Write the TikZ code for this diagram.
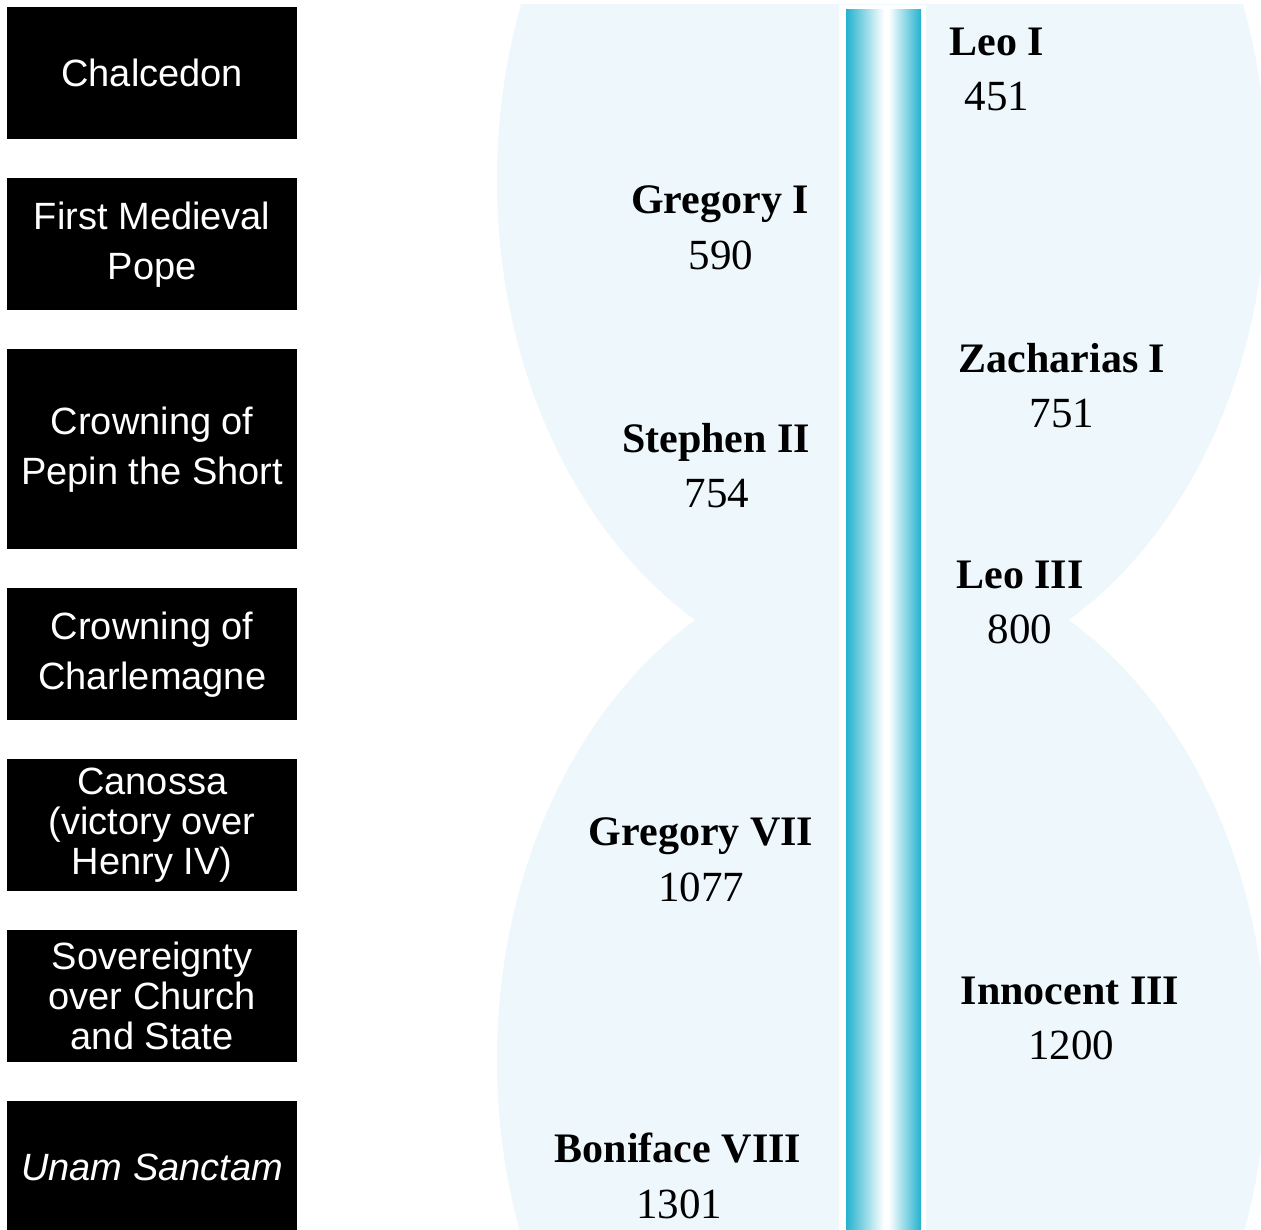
\documentclass[tikz,border=0pt]{standalone}
\usepackage{fontspec}
\setmainfont{Liberation Serif}
\setsansfont{Liberation Sans}
\definecolor{blobblue}{RGB}{238,247,251}
\definecolor{barcyan}{RGB}{36,178,206}
\tikzset{
  evbox/.style={fill=black, text=white, font=\sffamily\fontsize{38}{50}\selectfont,
    minimum width=290pt, align=center, inner sep=0pt, anchor=north west},
  evboxthree/.style={evbox, font=\sffamily\fontsize{38}{40}\selectfont},
  popename/.style={font=\bfseries\fontsize{42}{50}\selectfont, anchor=base, inner sep=0pt},
  popeyear/.style={font=\fontsize{43}{50}\selectfont, anchor=base, inner sep=0pt},
}
\begin{document}
\begin{tikzpicture}[x=1pt,y=-1pt]
\useasboundingbox (0,0) rectangle (1261,1230);
\fill[white] (0,0) rectangle (1261,1230);
% light blue hourglass background
\begin{scope}
  \clip (0,5) rectangle (1261,1230);
  \fill[blobblue] (882,180) ellipse [x radius=385pt, y radius=503pt];
  \fill[blobblue] (882,1060) ellipse [x radius=385pt, y radius=503pt];
\end{scope}
% central bar (cylinder-like highlight)
\fill[white] (839,5) rectangle (926,1230);
\shade[left color=barcyan, right color=white] (846,10) rectangle (884,1230);
\shade[left color=white, right color=barcyan] (888.5,10) rectangle (921,1230);
\fill[white] (883.5,10) rectangle (889,1230);
% event boxes
\node[evbox, minimum height=132pt] (b1) at (7,7) {Chalcedon};
\node[evbox, minimum height=132pt] (b2) at (7,178) {First Medieval\\Pope};
\node[evbox, minimum height=200pt] (b3) at (7,349) {Crowning of\\Pepin the Short};
\node[evbox, minimum height=132pt] (b4) at (7,588) {Crowning of\\Charlemagne};
\node[evboxthree, minimum height=132pt] (b5) at (7,759) {Canossa\\(victory over\\Henry IV)};
\node[evboxthree, minimum height=132pt] (b6) at (7,930) {Sovereignty\\over Church\\and State};
\node[evbox, minimum height=132pt] (b7) at (7,1101) {\itshape Unam Sanctam};
% popes
\node[popename] (leo1) at (997,56) {Leo I};
\node[popeyear] (leo1y) at (997,111) {451};
\node[popename] (greg1) at (720,214) {Gregory I};
\node[popeyear] (greg1y) at (721,270) {590};
\node[popename] (zach) at (1062,373) {Zacharias I};
\node[popeyear] (zachy) at (1062,428) {751};
\node[popename] (steph) at (716,452) {Stephen II};
\node[popeyear] (stephy) at (717,507) {754};
\node[popename] (leo3) at (1020,588) {Leo III};
\node[popeyear] (leo3y) at (1020,643) {800};
\node[popename] (greg7) at (701,845) {Gregory VII};
\node[popeyear] (greg7y) at (701,901) {1077};
\node[popename] (inno) at (1070,1004) {Innocent III};
\node[popeyear] (innoy) at (1071,1059) {1200};
\node[popename] (boni) at (678,1162) {Boniface VIII};
\node[popeyear] (boniy) at (679,1218) {1301};
\end{tikzpicture}
\end{document}
